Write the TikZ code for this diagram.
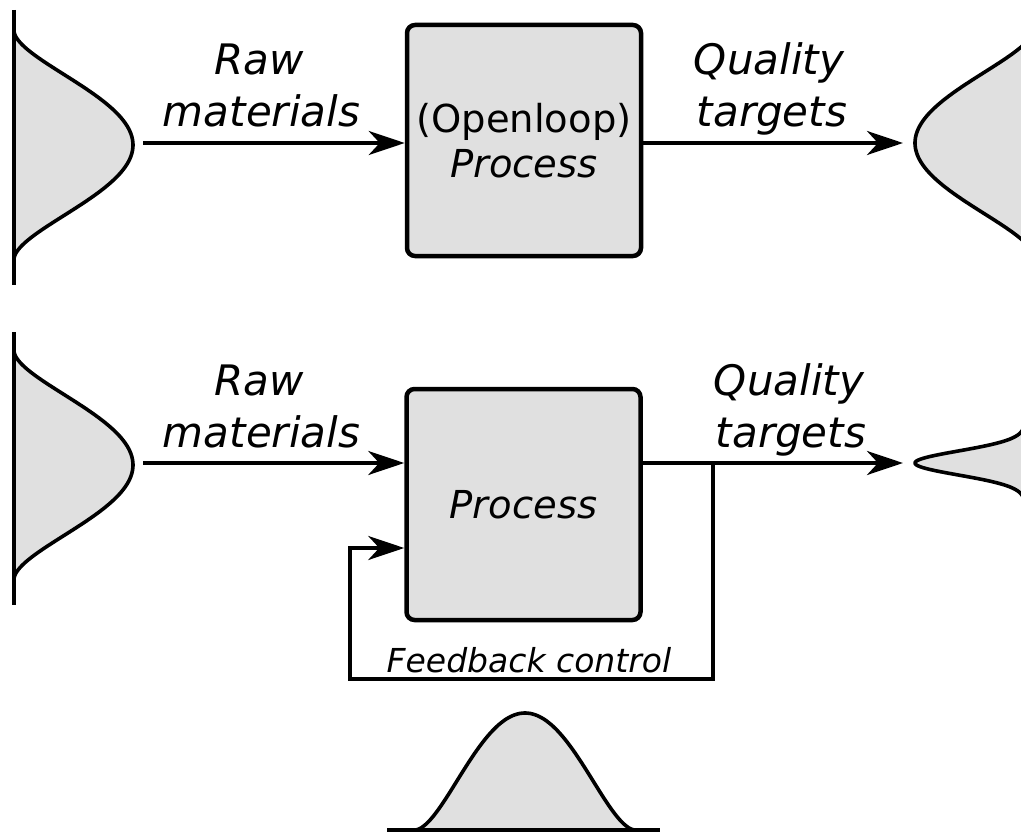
\documentclass[tikz,border=0pt]{standalone}
\usepackage{fontspec}
\setmainfont{DejaVu Sans}
\usetikzlibrary{arrows.meta}
\definecolor{boxgray}{HTML}{E0E0E0}
\tikzset{
  proc/.style={draw, line width=4.5pt, fill=boxgray, rounded corners=8pt,
    minimum width=234pt, minimum height=231pt, inner sep=0pt, align=center,
    font=\fontsize{38.5}{45}\selectfont},
  flow/.style={line width=4pt, line join=miter,
    -{Stealth[length=36pt, width=24pt, inset=11pt]}},
  lbl/.style={font=\fontsize{42}{52}\selectfont\itshape, inner sep=0pt, anchor=base},
  bell/.style={draw, line width=3.6pt, fill=boxgray},
  axisline/.style={line width=3.6pt},
}
\begin{document}
\begin{tikzpicture}[x=1pt, y=-1pt]
\useasboundingbox (0,0) rectangle (1021,832);
\clip (0,0) rectangle (1021,832);

% ---------- top panel ----------
\filldraw[bell] plot[domain=-113.9:113.9, samples=100, smooth]
  ({14+119*(1-(\x/114)^2)^1.8}, {145+\x});
\draw[axisline] (14,10) -- (14,285);
\filldraw[bell] plot[domain=-113.9:113.9, samples=100, smooth]
  ({1034-119*(1-(\x/114)^2)^1.8}, {143+\x});

\node[proc] (p1) at (524,140.5) {(Openloop)\\\textit{Process}};

\node[lbl] (raw1) at (259,75) {Raw};
\node[lbl] (mat1) at (261.5,127) {materials};
\node[lbl] (qual1) at (769,75) {Quality};
\node[lbl] (targ1) at (772,127) {targets};

\coordinate (in1) at (143,143);
\coordinate (out1) at (903,143);
\draw[flow] (in1) -- (in1 -| p1.west);
\draw[flow] (out1 -| p1.east) -- (out1);

% ---------- bottom panel ----------
\filldraw[bell] plot[domain=-113.9:113.9, samples=100, smooth]
  ({14+119*(1-(\x/114)^2)^1.8}, {465+\x});
\draw[axisline] (14,332) -- (14,605);
\filldraw[bell] plot[domain=-45:45, samples=90, smooth]
  ({1025-110*exp(-(\x*\x)/288)}, {463+\x});

\node[proc] (p2) at (523.5,504.5) {\textit{Process}};

\node[lbl] (raw2) at (259,395) {Raw};
\node[lbl] (mat2) at (261.5,447) {materials};
\node[lbl] (qual2) at (789,395) {Quality};
\node[lbl] (targ2) at (791,447) {targets};

\coordinate (in2) at (143,463);
\coordinate (out2) at (903,463);
\coordinate (fb) at (713,463);
\coordinate (fbr) at (713,679);
\coordinate (fbl) at (350,679);
\coordinate (fbu) at (350,548);
\draw[flow] (in2) -- (in2 -| p2.west);
\draw[flow] (out2 -| p2.east) -- (out2);
\draw[flow] (fb) -- (fbr) -- (fbl) -- (fbu) -- (fbu -| p2.west);

\node[font=\fontsize{33}{38}\selectfont\itshape, inner sep=0pt] (fbc) at (529,660) {Feedback control};

% ---------- bottom bell ----------
\filldraw[bell] plot[domain=-109.9:109.9, samples=100, smooth]
  ({525+\x}, {830-117*(1-(\x/110)^2)^1.8});
\draw[axisline] (387,830) -- (660,830);
\end{tikzpicture}
\end{document}
